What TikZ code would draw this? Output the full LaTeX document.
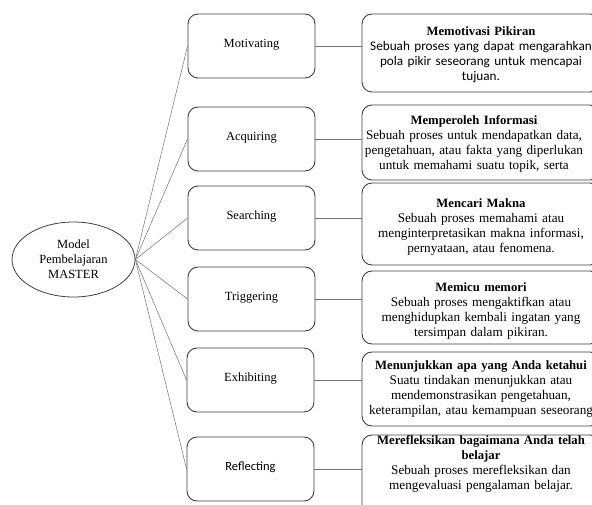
\documentclass[tikz,border=0pt]{standalone}
\usepackage{fontspec}
\setmainfont{Liberation Serif}
\newfontfamily\calibri{Carlito}
\usetikzlibrary{shapes.geometric}
\newcommand{\boxtitle}[1]{{\fontsize{12.7}{15}\selectfont\textbf{#1}}}

\begin{document}
\begin{tikzpicture}[x=1pt, y=-1pt,
        model/.style={ellipse, draw=black!75, line width=0.8pt, minimum width=123pt, minimum height=75pt, inner sep=0pt, align=center},
        stage_box/.style={draw=black!75, line width=0.9pt, rounded corners=10pt, minimum width=127pt, minimum height=64pt, inner sep=0pt, text depth=6pt},
        detail_box/.style={draw=black!75, line width=0.9pt, rounded corners=10pt, minimum width=238pt, inner sep=0pt},
        detail_text/.style={text width=240pt, align=center, inner sep=0pt, font=\fontsize{13.2}{15}\selectfont},
        link/.style={black!55, line width=0.5pt}
    ]
        \useasboundingbox (0,0) rectangle (592,505);
        \clip (0,0) rectangle (592,505);
        \fontsize{12.5}{15}\selectfont

        \node[model] (master) at (73.5, 259.5) {Model\\Pembelajaran\\MASTER};

        \node[stage_box] (m1) at (251.5, 46) {Motivating};
        \node[stage_box] (m2) at (251.5, 139) {Acquiring};
        \node[stage_box] (m3) at (251.5, 218) {Searching};
        \node[stage_box] (m4) at (251.5, 299) {Triggering};
        \node[stage_box] (m5) at (250.5, 380) {Exhibiting};
        \node[stage_box] (m6) at (250.5, 469) {\calibri Reflecting};

        \node[detail_box, minimum height=78pt] (r1) at (481, 53) {};
        \node[detail_box, minimum height=75pt] (r2) at (481, 142.5) {};
        \node[detail_box, minimum height=82pt] (r3) at (481, 224) {};
        \node[detail_box, minimum height=73pt] (r4) at (481, 307.5) {};
        \node[detail_box, minimum height=74pt] (r5) at (481, 389) {};
        \node[detail_box, minimum height=90pt] (r6) at (481, 480) {};

        \node[detail_text] (t1) at (481, 55) {\boxtitle{Memotivasi Pikiran}\\{\calibri Sebuah proses yang dapat mengarahkan}\\{\calibri pola pikir seseorang untuk mencapai}\\{\calibri tujuan.}};
        \node[detail_text] (t2) at (474, 143.5) {\boxtitle{Memperoleh Informasi}\\Sebuah proses untuk mendapatkan data,\\pengetahuan, atau fakta yang diperlukan\\untuk memahami suatu topik, serta};
        \node[detail_text] (t3) at (481, 227.5) {\boxtitle{Mencari Makna}\\Sebuah proses memahami atau\\menginterpretasikan makna informasi,\\pernyataan, atau fenomena.};
        \node[detail_text] (t4) at (481, 310.5) {\boxtitle{Memicu memori}\\Sebuah proses mengaktifkan atau\\menghidupkan kembali ingatan yang\\tersimpan dalam pikiran.};
        \node[detail_text] (t5) at (481, 389.5) {\boxtitle{Menunjukkan apa yang Anda ketahui}\\Suatu tindakan menunjukkan atau\\mendemonstrasikan pengetahuan,\\keterampilan, atau kemampuan seseorang};
        \node[detail_text] (t6) at (481, 464) {\boxtitle{Merefleksikan bagaimana Anda telah}\\\boxtitle{belajar}\\Sebuah proses merefleksikan dan\\mengevaluasi pengalaman belajar.};

        \foreach \i in {1,...,6} {
            \draw[link] (master.east) -- (m\i.west);
            \draw[link] (m\i.east) -- (m\i.east -| r\i.west);
        }
    \end{tikzpicture}
\end{document}
